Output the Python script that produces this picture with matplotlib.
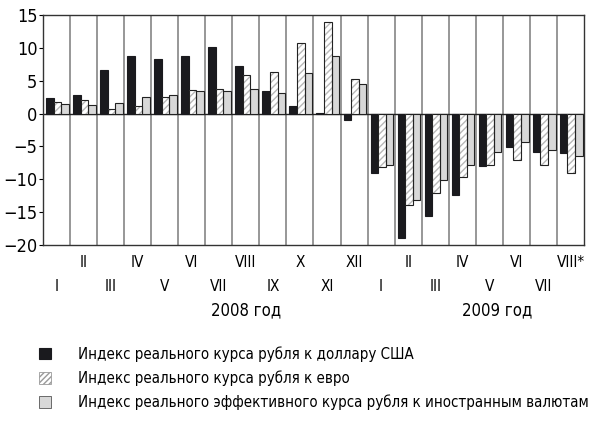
import numpy as np
import matplotlib
matplotlib.use("Agg")
from matplotlib import pyplot as plt
from matplotlib import font_manager
from matplotlib.ft2font import FT2Font
from matplotlib.patches import Patch


def has_cyrillic(path):
    try:
        f = FT2Font(path)
        return all(f.get_char_index(ord(c)) for c in 'Индекс год')
    except Exception:
        return False


# pick a narrow face with Cyrillic if the system has one
narrow = sorted({f.name for f in font_manager.fontManager.ttflist
                 if ('Condensed' in f.name or 'Narrow' in f.name
                     or f.stretch in ('condensed', 'semi-condensed', 'extra-condensed'))
                 and has_cyrillic(f.fname)})
if narrow:
    plt.rcParams['font.family'] = [narrow[0], 'DejaVu Sans']
    plt.rcParams['font.stretch'] = 'condensed'
    k = 1.0
else:
    plt.rcParams['font.family'] = ['Roboto', 'DejaVu Sans']
    k = 0.9

# Months: I 2008 .. VIII 2009
months = ['I', 'II', 'III', 'IV', 'V', 'VI', 'VII', 'VIII', 'IX', 'X', 'XI', 'XII',
          'I', 'II', 'III', 'IV', 'V', 'VI', 'VII', 'VIII*']
usd = [2.3, 2.9, 6.7, 8.7, 8.3, 8.7, 10.1, 7.3, 3.4, 1.1, 0.15, -1.0,
       -9.0, -19.0, -15.6, -12.4, -8.0, -5.1, -5.9, -6.0]
eur = [1.8, 2.1, 0.7, 1.2, 2.5, 3.6, 3.8, 5.9, 6.4, 10.7, 13.9, 5.2,
       -8.2, -13.9, -12.1, -9.6, -7.8, -7.1, -7.9, -9.0]
eff = [1.4, 1.3, 1.6, 2.5, 2.8, 3.5, 3.5, 3.7, 3.2, 6.1, 8.7, 4.5,
       -7.9, -13.1, -10.1, -7.9, -5.8, -4.3, -5.5, -6.5]
labels = ['Индекс реального курса рубля к доллару США',
          'Индекс реального курса рубля к евро',
          'Индекс реального эффективного курса рубля к иностранным валютам']

x = np.arange(len(months))
w = 0.28

fig = plt.figure(figsize=(5.98, 4.32), dpi=100)
ax = fig.add_axes([43 / 598, 1 - 245 / 432, 541 / 598, 230 / 432])

ax.bar(x - 0.25, usd, w, color='#1a1a1e', edgecolor='#1a1a1e', linewidth=0.8, zorder=3)
# hatched bars: light hatch, then dark outline on top
ax.bar(x + 0.03, eur, w, color='white', edgecolor='#b8b8b8', linewidth=0,
       hatch='/////', zorder=3)
ax.bar(x + 0.03, eur, w, fill=False, edgecolor='#222222', linewidth=0.8, zorder=4)
ax.bar(x + 0.31, eff, w, color='#d8d8d8', edgecolor='#222222', linewidth=0.8, zorder=3)

for b in np.arange(0.5, len(months) - 0.5, 1):
    ax.axvline(b, color='#7a7a7a', lw=1.1, zorder=1)
ax.axhline(0, color='#222222', lw=1.0, zorder=2)

ax.set_xlim(-0.5, len(months) - 0.5)
ax.set_ylim(-20, 15)
ax.set_yticks([15, 10, 5, 0, -5, -10, -15, -20])
ax.tick_params(axis='y', direction='out', length=3, width=0.8, labelsize=13 * k, pad=1)
ax.set_xticks([])
for s in ax.spines.values():
    s.set_color('#333333')
    s.set_linewidth(1.0)

# staggered month labels
for i, m in enumerate(months):
    yoff = -0.075 if i % 2 == 1 else -0.18
    ax.text(i, yoff, m, transform=ax.get_xaxis_transform(), ha='center', va='center',
            fontsize=11 * k)
ax.text(7.0, -0.285, '2008 год', transform=ax.get_xaxis_transform(), ha='center',
        va='center', fontsize=12 * k)
ax.text(16.3, -0.285, '2009 год', transform=ax.get_xaxis_transform(), ha='center',
        va='center', fontsize=12 * k)

handles = [Patch(facecolor='#1a1a1e', edgecolor='#1a1a1e', linewidth=0.8),
           Patch(facecolor='white', edgecolor='#9a9a9a', linewidth=0.6, hatch='//////'),
           Patch(facecolor='#d8d8d8', edgecolor='#555555', linewidth=0.6)]
fig.legend(handles, labels, loc='upper left', bbox_to_anchor=(33 / 598, 1 - 340 / 432),
           frameon=False, fontsize=10.8 * k, handlelength=0.8, handleheight=0.8,
           handletextpad=1.8, labelspacing=0.58, borderaxespad=0)

fig.savefig('out.png', dpi=100)
